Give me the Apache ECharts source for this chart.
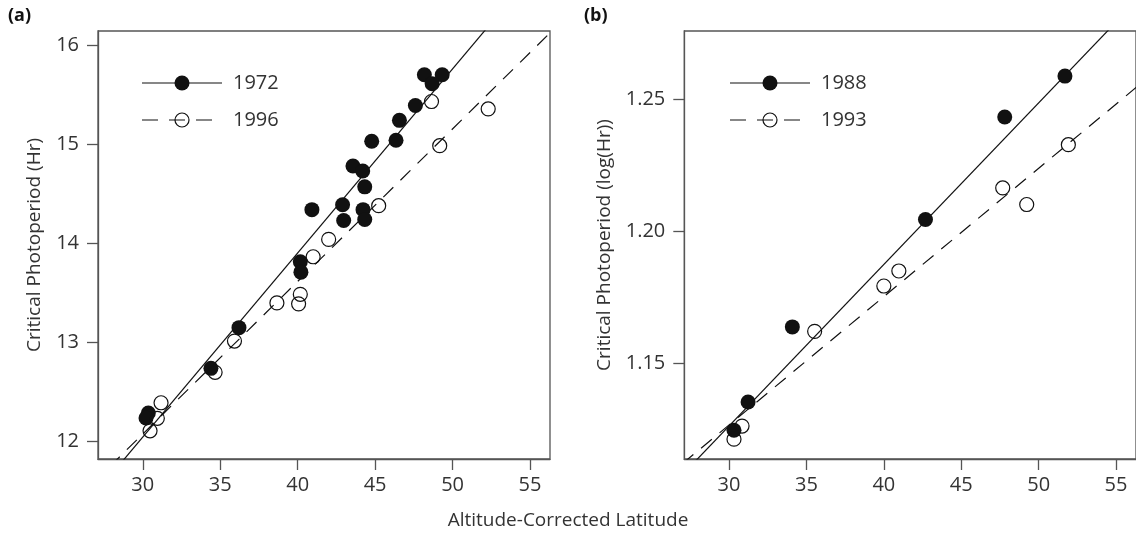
<!DOCTYPE html>
<html>
<head>
<meta charset="utf-8">
<script src="https://cdn.jsdelivr.net/npm/echarts@6/dist/echarts.min.js"></script>
<style>
html,body{margin:0;padding:0;background:#fff;}
#chart{width:1136px;height:535px;}
</style>
</head>
<body>
<div id="chart"></div>
<script>
// ---------- data ----------
const xTicks = [30, 35, 40, 45, 50, 55];
const yTicksA = [12, 13, 14, 15, 16];
const yTicksB = [1.15, 1.20, 1.25];

// Panel (a) — 1972 (filled)
const lat1972 = [48.18, 49.33, 48.68, 47.60, 46.57, 44.78, 46.35, 43.57, 44.20, 44.33, 40.92, 42.90, 42.97, 44.22, 44.33, 40.17, 40.21, 36.21, 34.40, 30.36, 30.21];
const cp1972  = [15.70, 15.70, 15.61, 15.39, 15.24, 15.03, 15.04, 14.78, 14.73, 14.57, 14.34, 14.39, 14.23, 14.34, 14.24, 13.815, 13.71, 13.15, 12.74, 12.29, 12.24];
// Panel (a) — 1996 (open)
const lat1996 = [48.64, 52.30, 49.17, 45.23, 42.00, 41.00, 40.17, 40.06, 38.66, 35.92, 34.67, 31.18, 30.94, 30.47];
const cp1996  = [15.43, 15.355, 14.985, 14.38, 14.04, 13.865, 13.486, 13.39, 13.40, 13.015, 12.70, 12.393, 12.236, 12.11];
// Panel (a) fitted lines (end points read at the frame)
const fit1972 = [[28.40, 11.75], [52.50, 16.223]];
const fit1996 = [[27.87, 11.75], [56.50, 16.154]];

// Panel (b) — 1988 (filled), log(Hr)
const lat1988 = [51.70, 47.81, 42.69, 34.09, 31.23, 30.32];
const cp1988  = [1.2588, 1.2433, 1.2044, 1.1637, 1.1352, 1.1245];
// Panel (b) — 1993 (open)
const lat1993 = [51.92, 47.68, 49.23, 40.97, 40.00, 35.53, 30.84, 30.32];
const cp1993  = [1.2328, 1.2164, 1.2101, 1.1849, 1.1792, 1.1620, 1.1261, 1.1211];
// Panel (b) fitted lines
const fit1988 = [[27.37, 1.110], [55.12, 1.280]];
const fit1993 = [[27.00, 1.1119], [57.00, 1.2579]];

const pairs = (xs, ys) => xs.map((x, i) => [x, ys[i]]);

// ---------- styling ----------
const FONT = 'Open Sans';
const AX = '#555';
const TXT = '#333';

function xAxisFor(gi) {
  return {
    gridIndex: gi, type: 'value', min: 27.11, max: 56.29,
    axisLine: { show: true, onZero: false, lineStyle: { color: AX, width: 1.3 } },
    axisTick: { show: true, length: 11, customValues: xTicks, lineStyle: { color: AX, width: 1.3 } },
    axisLabel: { customValues: xTicks, fontSize: 20, color: TXT, margin: 16, fontFamily: FONT },
    splitLine: { show: false }
  };
}
function yAxisFor(gi, min, max, ticks, name, gap, fmt) {
  return {
    gridIndex: gi, type: 'value', min: min, max: max,
    name: name, nameLocation: 'middle', nameRotate: 90, nameGap: gap,
    nameTextStyle: { fontSize: 19, color: TXT, fontFamily: FONT },
    axisLine: { show: true, onZero: false, lineStyle: { color: AX, width: 1.3 } },
    axisTick: { show: true, length: 11, customValues: ticks, lineStyle: { color: AX, width: 1.3 } },
    axisLabel: { customValues: ticks, fontSize: 20, color: TXT, margin: 19, fontFamily: FONT, formatter: fmt },
    splitLine: { show: false }
  };
}
function filled(gi, data) {
  return { type: 'scatter', xAxisIndex: gi, yAxisIndex: gi, data: data, symbol: 'circle', symbolSize: 15,
    itemStyle: { color: '#111', opacity: 1 }, silent: true, z: 3 };
}
function open(gi, data) {
  return { type: 'scatter', xAxisIndex: gi, yAxisIndex: gi, data: data, symbol: 'circle', symbolSize: 14,
    itemStyle: { color: 'rgba(0,0,0,0)', borderColor: '#111', borderWidth: 1.2, opacity: 1 }, silent: true, z: 4 };
}
function fitLine(gi, data, dashed) {
  return { type: 'line', xAxisIndex: gi, yAxisIndex: gi, data: data, showSymbol: false, symbol: 'none',
    clip: true, silent: true, z: 2,
    lineStyle: { color: '#111', width: 1.2, type: dashed ? [14, 10] : 'solid' } };
}

function legendGroup(x0, y0, lab1, lab2) {
  return [
    { type: 'line', shape: { x1: x0, y1: y0, x2: x0 + 80, y2: y0 }, style: { stroke: '#111', lineWidth: 1.2 } },
    { type: 'circle', shape: { cx: x0 + 40, cy: y0, r: 7.5 }, style: { fill: '#111' } },
    { type: 'text', x: x0 + 91, y: y0, style: { text: lab1, font: '20px "Open Sans"', fill: TXT, verticalAlign: 'middle' } },
    { type: 'line', shape: { x1: x0, y1: y0 + 37, x2: x0 + 80, y2: y0 + 37 },
      style: { stroke: '#111', lineWidth: 1.2, lineDash: [16, 11] } },
    { type: 'circle', shape: { cx: x0 + 40, cy: y0 + 37, r: 7 }, style: { fill: 'none', stroke: '#111', lineWidth: 1.2 } },
    { type: 'text', x: x0 + 91, y: y0 + 37, style: { text: lab2, font: '20px "Open Sans"', fill: TXT, verticalAlign: 'middle' } }
  ];
}

const option = {
  animation: false,
  backgroundColor: '#fff',
  grid: [
    { left: 98, top: 31, width: 452, height: 428, show: true, borderColor: AX, borderWidth: 1.3, backgroundColor: 'rgba(0,0,0,0)' },
    { left: 684.3, top: 31, width: 452.5, height: 428, show: true, borderColor: AX, borderWidth: 1.3, backgroundColor: 'rgba(0,0,0,0)' }
  ],
  xAxis: [xAxisFor(0), xAxisFor(1)],
  yAxis: [
    yAxisFor(0, 11.826, 16.141, yTicksA, 'Critical Photoperiod (Hr)', 54, v => String(v)),
    yAxisFor(1, 1.1136, 1.2759, yTicksB, 'Critical Photoperiod (log(Hr))', 70, v => v.toFixed(2))
  ],
  series: [
    fitLine(0, fit1972, false), fitLine(0, fit1996, true),
    filled(0, pairs(lat1972, cp1972)), open(0, pairs(lat1996, cp1996)),
    fitLine(1, fit1988, false), fitLine(1, fit1993, true),
    filled(1, pairs(lat1988, cp1988)), open(1, pairs(lat1993, cp1993))
  ],
  graphic: [
    { type: 'text', left: 8, top: 7, style: { text: '(a)', font: 'bold 18px "Open Sans"', fill: '#111' } },
    { type: 'text', left: 584, top: 7, style: { text: '(b)', font: 'bold 18px "Open Sans"', fill: '#111' } },
    { type: 'text', x: 568, y: 521, style: { text: 'Altitude-Corrected Latitude', font: '19px "Open Sans"', fill: TXT, align: 'center', verticalAlign: 'middle' } }
  ].concat(legendGroup(142, 83, '1972', '1996'), legendGroup(730, 83, '1988', '1993'))
};

const chart = echarts.init(document.getElementById('chart'), null, { renderer: 'canvas' });
chart.setOption(option);
</script>
</body>
</html>
